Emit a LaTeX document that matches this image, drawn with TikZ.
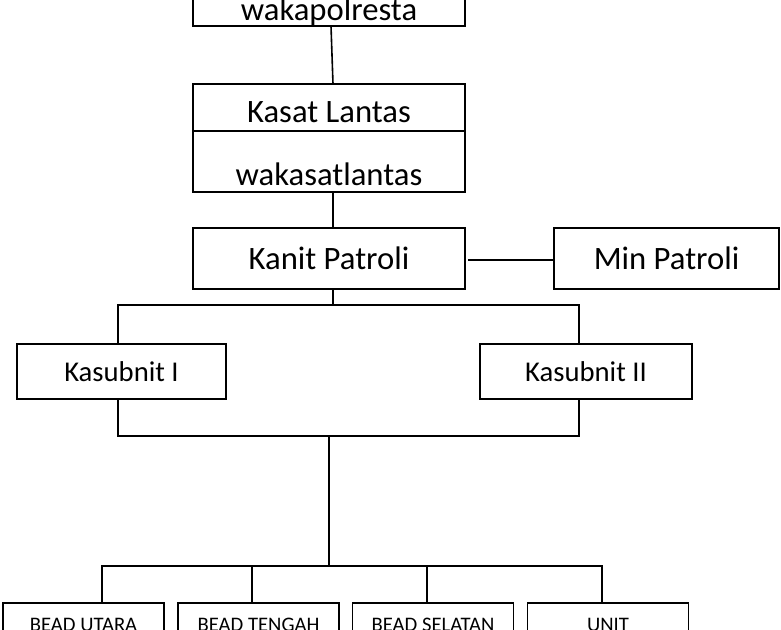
\documentclass[tikz,border=0pt]{standalone}
\usepackage{fontspec}
\setmainfont{Carlito}
\begin{document}
\begin{tikzpicture}[x=0.75pt,y=-0.75pt,
 box/.style={draw,line width=1.2pt,inner sep=0pt,outer sep=0pt},
 ln/.style={line width=1.2pt},
 big/.style={font=\fontsize{24.5}{28}\selectfont}]
\useasboundingbox (0,0) rectangle (781,630);
\node[box,minimum width=272*0.75pt,minimum height=60*0.75pt] (top) at (329,-4) {};
\node[big] at (329,12) {wakapolresta};
\node[box,minimum width=272*0.75pt,minimum height=108*0.75pt] (kasat) at (329,138) {};
\draw[ln] (193,131) -- (465,131);
\node[big] at (329,112) {Kasat Lantas};
\node[big] at (329,174) {wakasatlantas};
\node[box,big,minimum width=272*0.75pt,minimum height=61*0.75pt] (kanit) at (329,258.5) {Kanit Patroli};
\node[box,big,minimum width=225*0.75pt,minimum height=61*0.75pt] (min) at (666.5,258.5) {Min Patroli};
\node[box,minimum width=209*0.75pt,minimum height=55*0.75pt,font=\fontsize{21.5}{24}\selectfont] (k1) at (121.5,371.5) {Kasubnit I};
\node[box,minimum width=212*0.75pt,minimum height=55*0.75pt,font=\fontsize{21.5}{24}\selectfont] (k2) at (586,371.5) {Kasubnit II};
\foreach \n/\cx/\t in {b1/83.5/BEAD UTARA,b2/258.5/BEAD TENGAH,b3/433/BEAD SELATAN,b4/608/UNIT}{
 \node[box,minimum width=161*0.75pt,minimum height=60*0.75pt] (\n) at (\cx,633) {};
 \node[font=\fontsize{15.5}{18}\selectfont] at (\cx,625) {\t};
}
\coordinate (t1) at (331,26);
\coordinate (t2) at (333,84);
\draw[ln] (t1) -- (t2);
\draw[ln] (kasat.south -| t2) -- (kanit.north -| t2);
\draw[ln] (468,260) coordinate (m1) -- (min.west |- m1);
\draw[ln] (kanit.south -| t2) -- (333,305);
\draw[ln] (k1.north -| 118,0) -- (118,305) -- (579,305) -- (k2.north -| 579,0);
\draw[ln] (k1.south -| 118,0) -- (118,436) -- (579,436) -- (k2.south -| 579,0);
\draw[ln] (329,436) -- (329,566);
\draw[ln] (b1.north -| 102,0) -- (102,566) -- (602,566) -- (b4.north -| 602,0);
\draw[ln] (252,566) -- (b2.north -| 252,0);
\draw[ln] (427,566) -- (b3.north -| 427,0);
\end{tikzpicture}
\end{document}
